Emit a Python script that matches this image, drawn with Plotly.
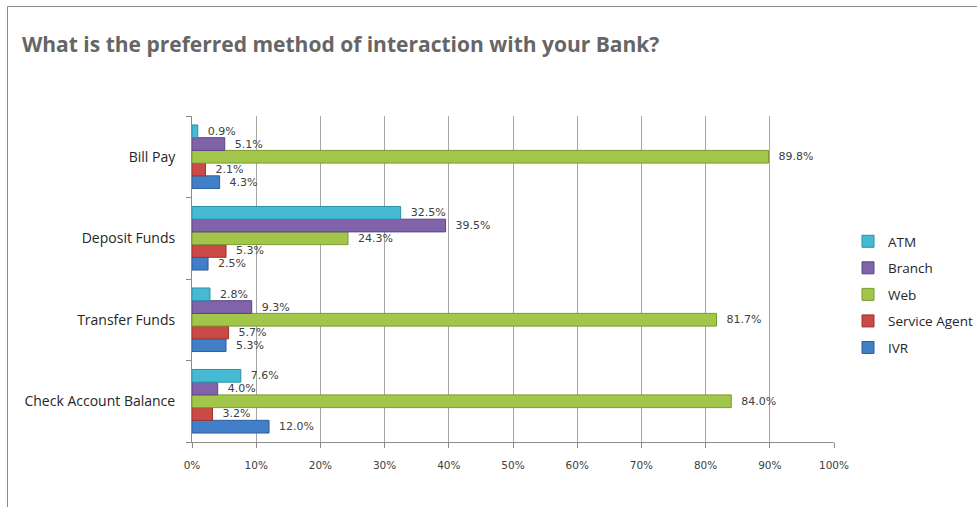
import plotly.graph_objects as go

categories = ["Check Account Balance", "Transfer Funds", "Deposit Funds", "Bill Pay"]
series_names = ["IVR", "Service Agent", "Web", "Branch", "ATM"]
ivr = [12.0, 5.3, 2.5, 4.3]
service_agent = [3.2, 5.7, 5.3, 2.1]
web = [84.0, 81.7, 24.3, 89.8]
branch = [4.0, 9.3, 39.5, 5.1]
atm = [7.6, 2.8, 32.5, 0.9]
x_ticks = [0, 10, 20, 30, 40, 50, 60, 70, 80, 90, 100]
x_tick_labels = ["0%", "10%", "20%", "30%", "40%", "50%", "60%", "70%", "80%", "90%", "100%"]

values = [ivr, service_agent, web, branch, atm]
fills = ["#4180C8", "#CB4A47", "#A2C64A", "#8063A8", "#46B9D3"]
edges = ["#2D5F9A", "#9C3330", "#7C9A30", "#5E4486", "#2E8FA6"]

W, H = 977, 507
L, R, T, B = 192, 834, 116, 442

fig = go.Figure()
n = len(series_names)
for i, (name, vals, fc, ec) in enumerate(zip(series_names, values, fills, edges)):
    fig.add_trace(go.Bar(
        y=categories, x=vals, name=name, orientation="h",
        marker=dict(color=fc, line=dict(color=ec, width=1)),
        text=[f"\u00a0\u00a0{v:.1f}%" for v in vals],
        textposition="outside", constraintext="none", cliponaxis=False,
        textfont=dict(family="DejaVu Sans", size=11, color="#404040"),
        legendgroup=name, legendrank=n - i,
        hoverinfo="x+name",
    ))

def px_to_paper_x(p):
    return (p - L) / (R - L)

def px_to_paper_y(p):
    return 1 - (p - T) / (B - T)

fig.update_layout(
    width=W, height=H,
    margin=dict(l=L, r=W - R, t=T, b=H - B, autoexpand=False),
    paper_bgcolor="white", plot_bgcolor="white",
    barmode="group", bargap=0.22, bargroupgap=0,
    title=dict(
        text="<b>What is the preferred method of interaction with your Bank?</b>",
        font=dict(family="Open Sans", size=21, color="#666666"),
        xref="container", yref="container",
        x=22 / W, xanchor="left", y=1 - 45 / H, yanchor="middle",
    ),
    xaxis=dict(
        range=[0, 100], tickvals=x_ticks, ticktext=x_tick_labels,
        showgrid=True, gridcolor="#A6A6A6", gridwidth=1,
        showline=True, linecolor="#8C8C8C", linewidth=1,
        ticks="outside", ticklen=5, tickcolor="#8C8C8C",
        tickfont=dict(family="DejaVu Sans", size=10.5, color="#404040"),
        ticklabelstandoff=8, zeroline=False, fixedrange=True,
    ),
    yaxis=dict(
        categoryorder="array", categoryarray=categories,
        showline=True, linecolor="#8C8C8C", linewidth=1,
        ticks="outside", ticklen=5, tickcolor="#8C8C8C", tickson="boundaries",
        tickfont=dict(family="Open Sans", size=14, color="#262626"),
        ticklabelstandoff=13, showgrid=False, fixedrange=True,
    ),
    legend=dict(
        x=px_to_paper_x(848), y=px_to_paper_y(226), xanchor="left", yanchor="top",
        traceorder="grouped", tracegroupgap=6,
        font=dict(family="Open Sans", size=13.5, color="#262626"),
        bgcolor="rgba(0,0,0,0)", itemwidth=30,
    ),
    showlegend=True,
    shapes=[dict(
        type="rect", xref="paper", yref="paper",
        x0=px_to_paper_x(7.5), x1=px_to_paper_x(W + 20),
        y0=px_to_paper_y(6.5), y1=px_to_paper_y(H + 20),
        line=dict(color="#8C8C8C", width=1), fillcolor="rgba(0,0,0,0)",
        layer="below",
    )],
)

fig.write_html("out.html")
